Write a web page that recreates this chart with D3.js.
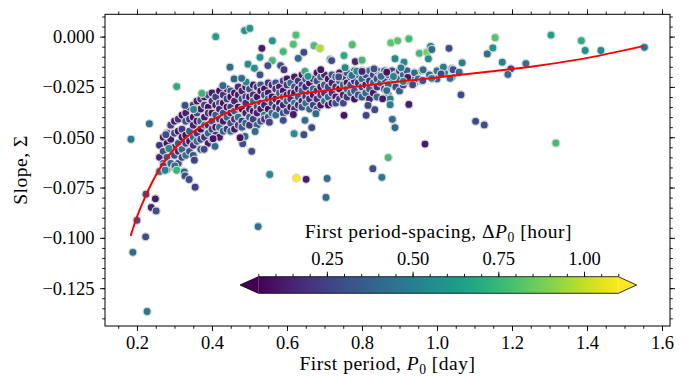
<!DOCTYPE html>
<html>
<head>
<meta charset="utf-8">
<script src="https://cdn.jsdelivr.net/npm/d3@7"></script>
<style>
  body { margin: 0; background: #fff; }
</style>
</head>
<body>
<svg id="chart" width="686" height="379"></svg>
<script>
// ---- data ----
// dense core of the relation, one column per first period with its slopes
var corePeriod = [0.26,0.27,0.28,0.29,0.30,0.31,0.32,0.33,0.34,0.35,0.36,0.37,0.38,0.39,0.40,
  0.41,0.42,0.43,0.44,0.45,0.46,0.47,0.48,0.49,0.50,0.51,0.52,0.53,0.54,0.55,0.56,0.57,0.58,0.59,
  0.60,0.61,0.62,0.63,0.64,0.65,0.66,0.67,0.68,0.69,0.70,0.71,0.72,0.73,0.74,0.75,0.76,0.77,0.78,
  0.79,0.80,0.81,0.82,0.83,0.84,0.85,0.86,0.87,0.88,0.89,0.90,0.91,0.92,0.93,0.94,0.95,0.96,
  0.98,1.00,1.02,1.04];
var coreSlope = [
  [-0.054,-0.060,-0.067],[-0.050,-0.057,-0.063],[-0.048,-0.053,-0.060,-0.066],[-0.044,-0.051,-0.056,-0.063],
  [-0.042,-0.048,-0.055,-0.059,-0.065],[-0.041,-0.047,-0.053,-0.057,-0.063],[-0.039,-0.046,-0.050,-0.056,-0.060],
  [-0.038,-0.042,-0.049,-0.053,-0.059],[-0.035,-0.041,-0.047,-0.052,-0.057],[-0.034,-0.040,-0.044,-0.050,-0.054,-0.059],
  [-0.032,-0.038,-0.042,-0.048,-0.052],[-0.031,-0.036,-0.042,-0.046,-0.051,-0.056],[-0.030,-0.034,-0.040,-0.044,-0.050],
  [-0.029,-0.035,-0.038,-0.044,-0.048,-0.053],[-0.028,-0.032,-0.038,-0.042,-0.046,-0.051],[-0.030,-0.034,-0.039,-0.045,-0.049],
  [-0.027,-0.033,-0.036,-0.041,-0.045,-0.050],[-0.029,-0.033,-0.038,-0.042,-0.047],[-0.026,-0.031,-0.035,-0.040,-0.046],
  [-0.027,-0.030,-0.035,-0.038,-0.043,-0.047],[-0.028,-0.032,-0.037,-0.041,-0.046],[-0.025,-0.029,-0.035,-0.040,-0.044],
  [-0.027,-0.031,-0.036,-0.042,-0.045],[-0.025,-0.030,-0.033,-0.038,-0.043],[-0.026,-0.030,-0.036,-0.040,-0.044],
  [-0.024,-0.029,-0.032,-0.037,-0.041],[-0.025,-0.030,-0.035,-0.038,-0.044],[-0.024,-0.027,-0.033,-0.036,-0.042],
  [-0.026,-0.029,-0.034,-0.039,-0.041],[-0.023,-0.028,-0.031,-0.036,-0.040],[-0.024,-0.030,-0.033,-0.038],
  [-0.023,-0.026,-0.031,-0.035,-0.039],[-0.025,-0.028,-0.033,-0.036],[-0.022,-0.027,-0.030,-0.034,-0.038],
  [-0.021,-0.024,-0.029,-0.032,-0.037],[-0.023,-0.028,-0.031,-0.035],[-0.020,-0.025,-0.028,-0.033,-0.036],
  [-0.022,-0.026,-0.030,-0.034],[-0.019,-0.024,-0.027,-0.032,-0.035],[-0.021,-0.025,-0.030,-0.033],
  [-0.020,-0.023,-0.028,-0.031,-0.036],[-0.021,-0.026,-0.029,-0.034],[-0.018,-0.022,-0.027,-0.031,-0.036],
  [-0.020,-0.025,-0.029,-0.034],[-0.019,-0.024,-0.028,-0.032],[-0.021,-0.025,-0.030,-0.034],
  [-0.019,-0.023,-0.028,-0.033],[-0.020,-0.025,-0.030,-0.033],[-0.018,-0.022,-0.026,-0.031],
  [-0.020,-0.024,-0.029,-0.033],[-0.018,-0.023,-0.026,-0.030],[-0.020,-0.024,-0.028],
  [-0.017,-0.022,-0.027,-0.031],[-0.019,-0.023,-0.029],[-0.017,-0.021,-0.025,-0.030],
  [-0.019,-0.024,-0.028],[-0.017,-0.022,-0.026,-0.031],[-0.019,-0.023,-0.028],
  [-0.017,-0.021,-0.025,-0.030],[-0.019,-0.023],[-0.017,-0.021,-0.026],[-0.019,-0.024,-0.029],
  [-0.017,-0.022],[-0.019,-0.025],[-0.017,-0.021,-0.027],[-0.019,-0.024],[-0.017,-0.022],[-0.020],
  [-0.018,-0.023],[-0.021],[-0.017,-0.022],[-0.019],[-0.017,-0.021],[-0.018],[-0.016,-0.020]
];
var coreSpacing = [
  [0.2,0.15,0.45],[0.12,0.3,0.25],[0.15,0.1,0.35,0.45],[0.25,0.12,0.2,0.4],
  [0.12,0.28,0.1,0.3,0.5],[0.2,0.1,0.35,0.15,0.3],[0.1,0.22,0.12,0.4,0.25],
  [0.15,0.3,0.1,0.25,0.45],[0.1,0.2,0.35,0.12,0.3],[0.25,0.1,0.15,0.4,0.2,0.35],
  [0.12,0.3,0.1,0.2,0.45],[0.2,0.12,0.35,0.1,0.25,0.3],[0.1,0.25,0.12,0.55,0.2],
  [0.3,0.1,0.2,0.15,0.4,0.12],[0.12,0.2,0.1,0.3,0.25,0.42],[0.25,0.12,0.35,0.1,0.2],
  [0.1,0.3,0.15,0.2,0.45,0.12],[0.2,0.1,0.28,0.12,0.35],[0.12,0.25,0.1,0.4,0.2],
  [0.3,0.1,0.2,0.12,0.3,0.42],[0.1,0.15,0.35,0.2,0.12],[0.2,0.12,0.1,0.45,0.28],
  [0.15,0.3,0.12,0.2,0.35],[0.1,0.25,0.2,0.12,0.4],[0.3,0.1,0.15,0.35,0.2],
  [0.12,0.2,0.45,0.1,0.25],[0.2,0.12,0.3,0.15,0.4],[0.35,0.1,0.2,0.12,0.3],
  [0.1,0.28,0.15,0.42,0.2],[0.2,0.12,0.35,0.1,0.3],[0.15,0.1,0.25,0.4],
  [0.3,0.2,0.12,0.15,0.45],[0.12,0.35,0.1,0.2],[0.25,0.1,0.4,0.15,0.3],
  [0.1,0.2,0.12,0.35,0.25],[0.4,0.15,0.2,0.1],[0.12,0.3,0.1,0.45,0.2],
  [0.2,0.12,0.35,0.15],[0.1,0.25,0.4,0.12,0.3],[0.3,0.15,0.2,0.45],
  [0.12,0.1,0.35,0.2,0.4],[0.2,0.42,0.12,0.25],[0.1,0.3,0.15,0.2,0.35],
  [0.4,0.12,0.25,0.1],[0.15,0.35,0.2,0.45],[0.1,0.25,0.4,0.12],
  [0.3,0.15,0.2,0.1],[0.42,0.2,0.12,0.3],[0.12,0.35,0.1,0.25],
  [0.2,0.4,0.15,0.3],[0.35,0.1,0.45,0.2],[0.12,0.3,0.4],
  [0.25,0.15,0.35,0.1],[0.4,0.2,0.3],[0.12,0.42,0.25,0.35],
  [0.3,0.1,0.4],[0.42,0.2,0.35,0.15],[0.25,0.45,0.12],
  [0.38,0.3,0.2,0.42],[0.15,0.4],[0.42,0.3,0.2],[0.35,0.12,0.45],
  [0.25,0.42],[0.45,0.3],[0.2,0.4,0.35],[0.42,0.25],[0.35,0.45],[0.3],
  [0.42,0.38],[0.45],[0.3,0.42],[0.4],[0.45,0.35],[0.42],[0.35,0.45]
];

// scattered stars outside the core
var outPeriod = [0.410,0.487,0.501,0.624,0.561,0.533,0.590,0.617,0.672,0.688,0.645,0.630,0.528,0.561,
  0.715,0.752,0.782,0.800,0.774,0.496,0.549,0.583,0.513,0.592,0.648,0.690,0.528,0.656,0.738,0.755,
  0.773,0.786,0.800,0.832,0.851,0.866,0.491,0.448,0.459,0.479,0.429,0.306,0.373,0.328,0.351,0.233,
  0.752,0.811,0.834,0.816,0.677,0.648,0.617,0.666,0.645,0.619,0.553,0.590,0.515,0.506,0.482,0.488,
  0.475,0.554,0.625,0.651,0.707,0.704,0.870,0.829,0.853,0.523,0.184,0.277,0.285,0.270,0.275,0.301,
  0.306,0.326,0.328,0.339,0.355,0.353,0.379,0.408,0.403,0.224,0.249,0.238,0.251,0.200,0.223,0.189,
  0.227,0.877,0.895,0.925,0.953,0.973,0.983,0.986,0.977,1.032,1.155,1.149,1.134,1.174,1.197,1.189,
  1.237,0.888,0.912,0.904,0.963,1.017,1.043,1.067,1.059,1.035,1.011,0.986,0.962,0.935,0.922,0.884,
  0.910,0.870,0.866,0.875,0.875,0.925,1.064,0.881,0.888,1.103,1.126,0.968,1.317,1.304,1.385,1.395,
  1.437,1.553,0.719,0.855];
var outSlope = [0.0000,0.0030,0.0041,0.0008,-0.0021,-0.0058,-0.0074,-0.0038,-0.0045,-0.0058,-0.0078,
  -0.0108,-0.0103,-0.0119,-0.0114,-0.0094,-0.0124,-0.0117,-0.0040,-0.0137,-0.0144,-0.0144,-0.0157,
  -0.0164,-0.0173,-0.0164,-0.0190,-0.0197,-0.0200,-0.0154,-0.0193,-0.0172,-0.0173,-0.0160,-0.0197,
  -0.0177,-0.0226,-0.0152,-0.0210,-0.0207,-0.0244,-0.0248,-0.0282,-0.0342,-0.0362,-0.0433,-0.0391,
  -0.0391,-0.0363,-0.0342,-0.0383,-0.0416,-0.0387,-0.0452,-0.0487,-0.0482,-0.0425,-0.0416,-0.0471,
  -0.0570,-0.0532,-0.0496,-0.0502,-0.0685,-0.0702,-0.0709,-0.0705,-0.0799,-0.0601,-0.0656,-0.0699,
  -0.0944,-0.0510,-0.0487,-0.0556,-0.0643,-0.0664,-0.0643,-0.0664,-0.0672,-0.0692,-0.0710,-0.0748,
  -0.0614,-0.0560,-0.0545,-0.0507,-0.0783,-0.0806,-0.0849,-0.0866,-0.0913,-0.0995,-0.1072,-0.1366,
  -0.0031,-0.0021,-0.0011,-0.0083,-0.0078,-0.0048,-0.0064,-0.0110,-0.0058,-0.0005,-0.0056,-0.0086,
  -0.0127,-0.0160,-0.0188,-0.0134,-0.0110,-0.0127,-0.0155,-0.0165,-0.0152,-0.0164,-0.0130,-0.0177,
  -0.0207,-0.0185,-0.0207,-0.0218,-0.0239,-0.0202,-0.0198,-0.0223,-0.0238,-0.0268,-0.0309,-0.0338,
  -0.0337,-0.0289,-0.0411,-0.0452,-0.0421,-0.0439,-0.0534,-0.0529,0.0008,-0.0020,-0.0069,-0.0069,
  -0.0053,-0.0119,-0.0309];
var outSpacing = [0.65,0.58,0.62,0.80,0.60,0.12,0.78,0.80,0.80,0.98,0.28,0.42,0.58,0.78,
  0.60,0.70,0.15,0.78,0.80,0.58,0.30,0.30,0.60,0.22,0.72,0.10,0.30,0.60,0.28,0.55,
  0.42,0.55,0.15,0.30,0.42,0.10,0.55,0.42,0.40,0.42,0.40,0.70,0.75,0.30,0.55,0.45,
  0.10,0.25,0.28,0.28,0.42,0.42,0.12,0.28,0.30,0.58,0.25,0.30,0.42,0.30,0.30,0.42,
  0.10,0.55,1.10,0.12,0.42,0.42,0.78,0.30,0.48,0.45,0.48,0.28,0.55,0.30,0.50,0.45,
  0.75,0.42,0.30,0.28,0.25,0.25,0.28,0.42,0.10,0.28,0.12,0.15,0.30,0.30,0.30,0.42,
  0.48,0.82,0.82,0.78,0.78,0.88,0.55,0.42,0.55,0.28,0.82,0.58,0.42,0.50,0.28,0.42,
  0.45,0.55,0.55,0.50,0.42,0.50,0.28,0.50,0.42,0.42,0.28,0.52,0.30,0.28,0.12,0.52,
  0.52,0.42,0.42,0.50,0.50,0.12,0.28,0.42,0.40,0.28,0.30,0.12,0.78,0.65,0.70,0.58,
  0.55,0.45,0.28,0.12];

// fitted relation
var fitPeriod = [0.183,0.20,0.22,0.24,0.26,0.28,0.30,0.33,0.36,0.40,0.45,0.50,0.56,0.65,0.75,0.86,1.00,1.13,1.26,1.38,1.55];
var fitSlope = [-0.0990,-0.0895,-0.0805,-0.0725,-0.0658,-0.0603,-0.0557,-0.0502,-0.0460,-0.0415,-0.0370,
  -0.0337,-0.0309,-0.0280,-0.0257,-0.0231,-0.0203,-0.0176,-0.0147,-0.0113,-0.0047];

var xTicks = [0.2,0.4,0.6,0.8,1.0,1.2,1.4,1.6];
var yTicks = [0,-0.025,-0.05,-0.075,-0.1,-0.125];
var cbTicks = [0.25,0.5,0.75,1.0];
var cbRange = [0.05,1.1];

// ---- drawing ----
var FONT = "'Liberation Serif', 'Times New Roman', serif";
var FS = 18.5;     // tick labels
var TS = 19.5;     // titles
var svg = d3.select("#chart");

var x = d3.scaleLinear().domain([0.1147,1.6213]).range([105,670]);
var y = d3.scaleLinear().domain([-0.1438,0.0111]).range([326,14.3]);
var color = d3.scaleSequential(d3.interpolateViridis).domain(cbRange).clamp(true);

var stars = [];
corePeriod.forEach(function(p,i){
  coreSlope[i].forEach(function(s,j){
    stars.push({p:p, s:s, dp:coreSpacing[i][j]});
  });
});
outPeriod.forEach(function(p,i){
  stars.push({p:p, s:outSlope[i], dp:outSpacing[i]});
});

svg.append("g").selectAll("circle")
   .data(stars)
   .enter()
   .append("circle")
   .attr("cx",function(d){return x(d.p);})
   .attr("cy",function(d){return y(d.s);})
   .attr("r",4)
   .attr("fill",function(d){return color(d.dp);})
   .attr("stroke","#d6d6d6")
   .attr("stroke-width",1.2);

var fit = d3.line()
            .x(function(d,i){return x(fitPeriod[i]);})
            .y(function(d,i){return y(fitSlope[i]);})
            .curve(d3.curveMonotoneX);
svg.append("path")
   .attr("d",fit(fitPeriod))
   .attr("fill","none")
   .attr("stroke","red")
   .attr("stroke-width",2);

// frame
svg.append("rect")
   .attr("x",105).attr("y",14.3)
   .attr("width",565).attr("height",311.7)
   .attr("fill","none").attr("stroke","#000").attr("stroke-width",1);

function styleAxis(g){
  g.select(".domain").remove();
  g.selectAll("line").attr("stroke","#000").attr("stroke-width",0.9);
  g.selectAll("text").attr("font-family",FONT).attr("font-size",FS).attr("fill","#000");
}

var xMinor = d3.range(0.15,1.62,0.05);
var yMinor = d3.range(-0.140,0.011,0.005);

// bottom / top
svg.append("g").attr("transform","translate(0,326)")
   .call(d3.axisBottom(x).tickValues(xMinor).tickSize(2.8).tickFormat("")).call(styleAxis);
svg.append("g").attr("transform","translate(0,326)")
   .call(d3.axisBottom(x).tickValues(xTicks).tickSize(5).tickPadding(4.5).tickFormat(d3.format(".1f"))).call(styleAxis);
svg.append("g").attr("transform","translate(0,14.3)")
   .call(d3.axisTop(x).tickValues(xMinor).tickSize(2.8).tickFormat("")).call(styleAxis);
svg.append("g").attr("transform","translate(0,14.3)")
   .call(d3.axisTop(x).tickValues(xTicks).tickSize(5).tickFormat("")).call(styleAxis);
// left / right
svg.append("g").attr("transform","translate(105,0)")
   .call(d3.axisLeft(y).tickValues(yMinor).tickSize(2.8).tickFormat("")).call(styleAxis);
svg.append("g").attr("transform","translate(105,0)")
   .call(d3.axisLeft(y).tickValues(yTicks).tickSize(5).tickPadding(5.5).tickFormat(d3.format(".3f"))).call(styleAxis);
svg.append("g").attr("transform","translate(670,0)")
   .call(d3.axisRight(y).tickValues(yMinor).tickSize(2.8).tickFormat("")).call(styleAxis);
svg.append("g").attr("transform","translate(670,0)")
   .call(d3.axisRight(y).tickValues(yTicks).tickSize(5).tickFormat("")).call(styleAxis);

// axis titles
var xt = svg.append("text")
   .attr("x",387.5).attr("y",370)
   .attr("text-anchor","middle")
   .attr("font-family",FONT).attr("font-size",TS).attr("letter-spacing",0.5);
xt.append("tspan").text("First period, ");
xt.append("tspan").attr("font-style","italic").text("P");
xt.append("tspan").attr("font-size",TS*0.7).attr("dy",4).text("0");
xt.append("tspan").attr("dy",-4).text(" [day]");

svg.append("text")
   .attr("transform","translate(27,170) rotate(-90)")
   .attr("text-anchor","middle")
   .attr("font-family",FONT).attr("font-size",TS).attr("letter-spacing",0.5)
   .text("Slope, \u03A3");

// ---- colour bar ----
var cb = d3.scaleLinear().domain(cbRange).range([258.3,618.3]);
var cbTop = 276.7, cbBot = 293.3, cbMid = (cbTop+cbBot)/2;
var ext = 18.3;

var grad = svg.append("defs").append("linearGradient")
   .attr("id","viridis").attr("x1","0%").attr("x2","100%");
d3.range(0,1.0001,0.05).forEach(function(t){
  grad.append("stop").attr("offset",(t*100)+"%").attr("stop-color",d3.interpolateViridis(t));
});

svg.append("rect")
   .attr("x",cb(cbRange[0])).attr("y",cbTop)
   .attr("width",cb(cbRange[1])-cb(cbRange[0])).attr("height",cbBot-cbTop)
   .attr("fill","url(#viridis)");
svg.append("path")
   .attr("d","M"+cb(cbRange[0])+","+cbTop+"L"+(cb(cbRange[0])-ext)+","+cbMid+"L"+cb(cbRange[0])+","+cbBot+"Z")
   .attr("fill",d3.interpolateViridis(0));
svg.append("path")
   .attr("d","M"+cb(cbRange[1])+","+cbTop+"L"+(cb(cbRange[1])+ext)+","+cbMid+"L"+cb(cbRange[1])+","+cbBot+"Z")
   .attr("fill",d3.interpolateViridis(1));
svg.append("path")
   .attr("d","M"+cb(cbRange[0])+","+cbTop+"L"+cb(cbRange[1])+","+cbTop+"L"+(cb(cbRange[1])+ext)+","+cbMid+
             "L"+cb(cbRange[1])+","+cbBot+"L"+cb(cbRange[0])+","+cbBot+"L"+(cb(cbRange[0])-ext)+","+cbMid+"Z")
   .attr("fill","none").attr("stroke","#000").attr("stroke-width",0.8);

svg.append("g").attr("transform","translate(0,"+cbTop+")")
   .call(d3.axisTop(cb).tickValues(d3.range(0.05,1.101,0.05)).tickSize(2.8).tickFormat("")).call(styleAxis);
svg.append("g").attr("transform","translate(0,"+cbTop+")")
   .call(d3.axisTop(cb).tickValues(cbTicks).tickSize(5).tickPadding(6.5).tickFormat(d3.format(".2f"))).call(styleAxis);

var ct = svg.append("text")
   .attr("x",(cb(cbRange[0])+cb(cbRange[1]))/2).attr("y",237.5)
   .attr("text-anchor","middle")
   .attr("font-family",FONT).attr("font-size",TS).attr("letter-spacing",0.5);
ct.append("tspan").text("First period-spacing, \u0394");
ct.append("tspan").attr("font-style","italic").text("P");
ct.append("tspan").attr("font-size",TS*0.7).attr("dy",4).text("0");
ct.append("tspan").attr("dy",-4).text(" [hour]");
</script>
</body>
</html>
